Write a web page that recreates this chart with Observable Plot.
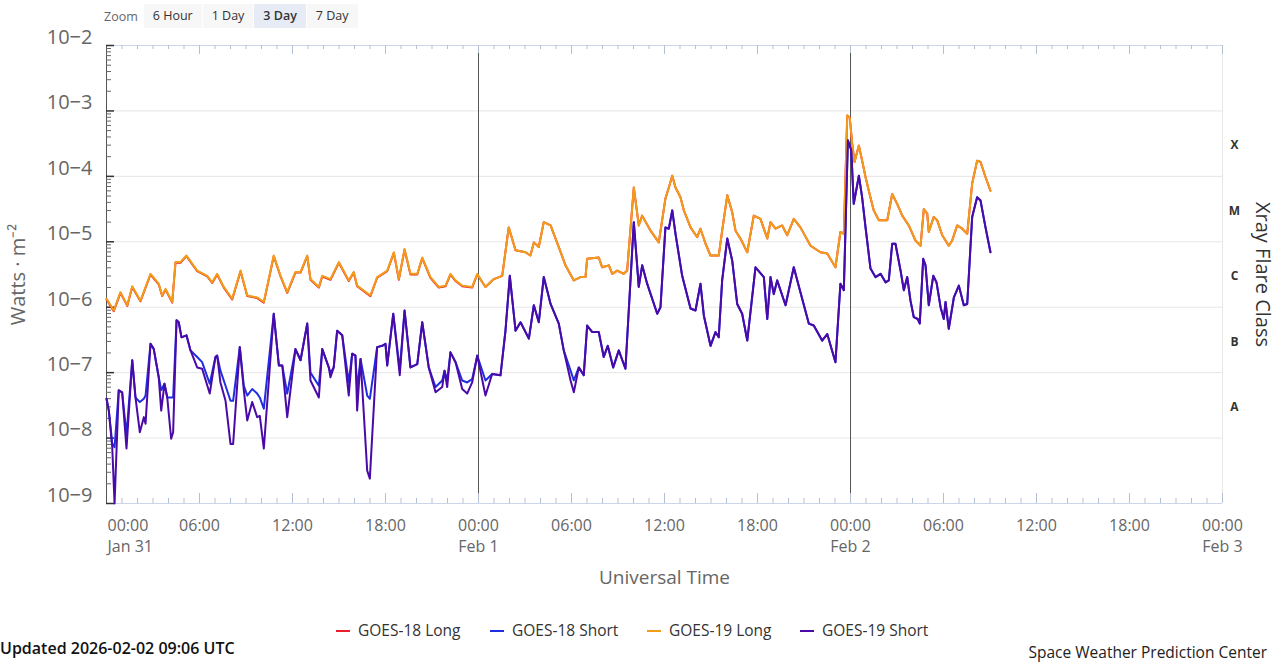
<!DOCTYPE html>
<html><head><meta charset="utf-8">
<script src="https://cdn.jsdelivr.net/npm/d3@7"></script>
<script src="https://cdn.jsdelivr.net/npm/@observablehq/plot@0.6"></script>
<style>
body{margin:0;background:#fff;font-family:"Open Sans",sans-serif;}
#wrap{position:relative;width:1281px;height:662px;overflow:hidden;background:#fff;}
#chart{position:absolute;left:0;top:0;}
#zoom{position:absolute;top:4px;left:104px;height:24px;display:flex;align-items:center;font-size:12.5px;color:#333;}
#zoom .lbl{color:#666;margin-right:6px;}
#zoom .btn{background:#f7f7f7;height:24px;line-height:24px;padding:0 9px;margin-right:1px;}
#zoom .btn.sel{background:#e6ebf5;font-weight:600;}
#legend{position:absolute;top:619px;left:0;width:1281px;height:22px;}
.li{position:absolute;top:0;height:22px;line-height:22px;font-size:15.5px;color:#333;font-weight:500;white-space:nowrap;}
.li i{display:inline-block;width:14px;height:2px;vertical-align:middle;margin-right:8px;position:relative;top:-1px;}
#updated{position:absolute;left:0;top:639px;height:18px;line-height:18px;font-size:16px;font-weight:600;color:#111;white-space:nowrap;}
#swpc{position:absolute;right:14px;top:643px;height:18px;line-height:18px;font-size:15.5px;color:#222;white-space:nowrap;}
</style></head>
<body><div id="wrap">
<div id="chart"></div>
<div id="zoom"><span class="lbl">Zoom</span><span class="btn">6 Hour</span><span class="btn">1 Day</span><span class="btn sel">3 Day</span><span class="btn">7 Day</span></div>
<div id="legend"></div>
<div id="updated">Updated 2026-02-02 09:06 UTC</div>
<div id="swpc">Space Weather Prediction Center</div>
</div>
<script>
// Time in hours after 2026-01-31 00:00 UTC, value = log10(flux in W·m⁻²)
const g19Long = [[0,-5.87],[0.47,-6.05],[0.90,-5.77],[1.34,-5.97],[1.66,-5.68],[2.19,-5.90],[2.84,-5.49],[3.37,-5.64],[3.59,-5.82],[3.81,-5.72],[4.24,-5.92],[4.45,-5.31],[4.77,-5.31],[5.16,-5.21],[5.85,-5.44],[6.50,-5.52],[6.82,-5.62],[7.14,-5.49],[7.57,-5.69],[8.11,-5.87],[8.65,-5.44],[9.08,-5.82],[9.72,-5.85],[10.15,-5.92],[10.79,-5.21],[11.23,-5.52],[11.66,-5.77],[12.19,-5.46],[12.52,-5.46],[12.95,-5.21],[13.16,-5.57],[13.70,-5.69],[13.92,-5.52],[14.45,-5.57],[14.99,-5.31],[15.63,-5.59],[15.95,-5.46],[16.17,-5.67],[17.03,-5.82],[17.46,-5.54],[18.11,-5.44],[18.54,-5.16],[18.86,-5.57],[19.23,-5.11],[19.61,-5.49],[20.05,-5.49],[20.37,-5.24],[20.90,-5.54],[21.44,-5.69],[21.87,-5.67],[22.19,-5.49],[22.52,-5.59],[22.95,-5.67],[23.59,-5.69],[23.92,-5.49],[24.45,-5.69],[24.99,-5.57],[25.53,-5.52],[25.95,-4.78],[26.39,-5.13],[27.03,-5.16],[27.35,-5.21],[27.57,-5.01],[27.89,-5.08],[28.21,-4.70],[28.65,-4.75],[29.18,-5.08],[29.61,-5.36],[30.15,-5.59],[30.58,-5.54],[30.90,-5.54],[31.01,-5.26],[31.76,-5.24],[31.98,-5.39],[32.41,-5.36],[32.63,-5.49],[32.95,-5.44],[33.37,-5.49],[33.59,-5.44],[34.02,-4.17],[34.34,-4.75],[34.56,-4.60],[35.10,-4.83],[35.63,-5.01],[36.06,-4.34],[36.28,-4.17],[36.50,-3.99],[36.71,-4.17],[37.03,-4.32],[37.25,-4.52],[37.68,-4.78],[38.11,-4.93],[38.32,-4.80],[38.65,-5.03],[38.97,-5.21],[39.50,-5.21],[39.72,-4.83],[40.05,-4.29],[40.37,-4.55],[40.58,-4.83],[40.90,-4.95],[41.34,-5.16],[41.76,-4.60],[42.19,-4.65],[42.63,-4.95],[42.84,-4.70],[43.16,-4.80],[43.59,-4.75],[43.92,-4.90],[44.34,-4.65],[44.77,-4.78],[45.42,-5.06],[46.06,-5.16],[46.50,-5.18],[47.03,-5.39],[47.35,-4.85],[47.57,-4.88],[47.79,-3.07],[47.95,-3.10],[48.11,-3.50],[48.26,-3.78],[48.54,-3.53],[48.75,-3.76],[48.97,-4.01],[49.18,-4.22],[49.50,-4.52],[49.83,-4.67],[50.15,-4.67],[50.37,-4.67],[50.69,-4.27],[51.01,-4.42],[51.34,-4.60],[51.76,-4.75],[52.19,-4.98],[52.52,-5.06],[52.73,-4.50],[52.95,-4.57],[53.05,-4.85],[53.37,-4.62],[53.59,-4.67],[53.92,-4.90],[54.13,-4.98],[54.34,-5.06],[54.56,-4.98],[54.88,-4.75],[55.21,-4.80],[55.53,-4.88],[55.85,-4.11],[56.17,-3.76],[56.39,-3.78],[56.71,-4.01],[57.03,-4.22]];

const g18Long = [[0,-5.88],[0.47,-6.06],[0.90,-5.78],[1.34,-5.98],[1.66,-5.69],[2.19,-5.91],[2.84,-5.50],[3.37,-5.65],[3.59,-5.83],[3.81,-5.73],[4.24,-5.93],[4.45,-5.32],[4.77,-5.32],[5.16,-5.22],[5.85,-5.45],[6.50,-5.53],[6.82,-5.63],[7.14,-5.50],[7.57,-5.70],[8.11,-5.88],[8.65,-5.45],[9.08,-5.83],[9.72,-5.86],[10.15,-5.93],[10.79,-5.22],[11.23,-5.53],[11.66,-5.78],[12.19,-5.47],[12.52,-5.47],[12.95,-5.22],[13.16,-5.58],[13.70,-5.70],[13.92,-5.53],[14.45,-5.58],[14.99,-5.32],[15.63,-5.60],[15.95,-5.47],[16.17,-5.68],[17.03,-5.83],[17.46,-5.55],[18.11,-5.45],[18.54,-5.17],[18.86,-5.58],[19.23,-5.12],[19.61,-5.50],[20.05,-5.50],[20.37,-5.25],[20.90,-5.55],[21.44,-5.70],[21.87,-5.68],[22.19,-5.50],[22.52,-5.60],[22.95,-5.68],[23.59,-5.70],[23.92,-5.50],[24.45,-5.69],[24.99,-5.57],[25.53,-5.52],[25.95,-4.78],[26.39,-5.13],[27.03,-5.16],[27.35,-5.21],[27.57,-5.01],[27.89,-5.08],[28.21,-4.70],[28.65,-4.75],[29.18,-5.08],[29.61,-5.36],[30.15,-5.59],[30.58,-5.54],[30.90,-5.54],[31.01,-5.26],[31.76,-5.24],[31.98,-5.39],[32.41,-5.36],[32.63,-5.49],[32.95,-5.44],[33.37,-5.49],[33.59,-5.44],[34.02,-4.17],[34.34,-4.75],[34.56,-4.60],[35.10,-4.83],[35.63,-5.01],[36.06,-4.34],[36.28,-4.17],[36.50,-3.99],[36.71,-4.17],[37.03,-4.32],[37.25,-4.52],[37.68,-4.78],[38.11,-4.93],[38.32,-4.80],[38.65,-5.03],[38.97,-5.21],[39.50,-5.21],[39.72,-4.83],[40.05,-4.29],[40.37,-4.55],[40.58,-4.83],[40.90,-4.95],[41.34,-5.16],[41.76,-4.60],[42.19,-4.65],[42.63,-4.95],[42.84,-4.70],[43.16,-4.80],[43.59,-4.75],[43.92,-4.90],[44.34,-4.65],[44.77,-4.78],[45.42,-5.06],[46.06,-5.16],[46.50,-5.18],[47.03,-5.39],[47.35,-4.85],[47.57,-4.88],[47.79,-3.07],[47.95,-3.10],[48.11,-3.50],[48.26,-3.78],[48.54,-3.53],[48.75,-3.76],[48.97,-4.01],[49.18,-4.22],[49.50,-4.52],[49.83,-4.67],[50.15,-4.67],[50.37,-4.67],[50.69,-4.27],[51.01,-4.42],[51.34,-4.60],[51.76,-4.75],[52.19,-4.98],[52.52,-5.06],[52.73,-4.50],[52.95,-4.57],[53.05,-4.85],[53.37,-4.62],[53.59,-4.67],[53.92,-4.90],[54.13,-4.98],[54.34,-5.06],[54.56,-4.98],[54.88,-4.75],[55.21,-4.80],[55.53,-4.88],[55.85,-4.11],[56.17,-3.76],[56.39,-3.78],[56.71,-4.01],[57.03,-4.22]];

const g19Short = [[0,-7.40],[0.15,-7.58],[0.37,-8.14],[0.52,-9.00],[0.79,-7.27],[1.01,-7.30],[1.29,-8.16],[1.66,-6.81],[1.87,-7.38],[2.15,-7.91],[2.41,-7.68],[2.52,-7.78],[2.84,-6.56],[3.05,-6.64],[3.37,-7.07],[3.53,-7.58],[3.74,-7.17],[3.92,-7.38],[4.17,-8.01],[4.30,-7.91],[4.52,-6.20],[4.66,-6.23],[4.84,-6.46],[5.16,-6.43],[5.42,-6.66],[5.85,-6.92],[6.17,-6.94],[6.66,-7.32],[7.03,-6.76],[7.14,-6.74],[7.35,-7.15],[7.68,-7.43],[8.00,-8.09],[8.17,-8.09],[8.60,-6.61],[8.86,-7.27],[9.08,-7.73],[9.40,-7.45],[9.72,-7.68],[9.89,-7.66],[10.15,-8.16],[10.79,-6.10],[11.12,-6.89],[11.34,-6.89],[11.66,-7.68],[12.19,-6.64],[12.52,-6.81],[12.95,-6.25],[13.16,-7.12],[13.70,-7.38],[13.92,-6.64],[14.34,-6.92],[14.45,-7.07],[14.66,-6.92],[14.88,-6.36],[15.21,-6.43],[15.63,-7.35],[15.85,-6.71],[16.06,-6.74],[16.17,-7.58],[16.39,-6.79],[16.82,-8.50],[16.99,-8.62],[17.46,-6.61],[17.79,-6.59],[18.00,-6.56],[18.11,-6.89],[18.50,-6.10],[18.92,-7.04],[19.23,-6.05],[19.61,-6.92],[20.05,-6.87],[20.37,-6.23],[20.79,-6.92],[21.23,-7.30],[21.66,-7.22],[21.81,-6.97],[21.98,-7.22],[22.19,-6.69],[22.52,-6.84],[22.95,-7.25],[23.27,-7.32],[23.59,-7.15],[23.92,-6.74],[24.45,-7.35],[24.88,-7.02],[25.42,-7.04],[25.74,-6.36],[26.02,-5.52],[26.39,-6.36],[26.71,-6.23],[27.25,-6.48],[27.57,-5.97],[27.89,-6.23],[28.21,-5.54],[28.65,-5.95],[29.18,-6.25],[29.50,-6.66],[29.94,-7.12],[30.15,-7.30],[30.47,-6.92],[30.79,-7.04],[31.01,-6.28],[31.34,-6.38],[31.76,-6.38],[32.08,-6.76],[32.34,-6.59],[32.69,-6.92],[33.05,-6.66],[33.48,-6.94],[34.02,-4.70],[34.34,-5.69],[34.56,-5.36],[34.88,-5.64],[35.53,-6.10],[35.74,-6.00],[36.06,-4.78],[36.28,-4.80],[36.50,-4.52],[36.71,-4.88],[37.14,-5.52],[37.68,-6.02],[38.00,-6.05],[38.32,-5.64],[38.54,-6.13],[38.97,-6.59],[39.29,-6.38],[39.50,-6.46],[39.72,-5.59],[40.05,-4.95],[40.37,-5.29],[40.69,-5.95],[41.01,-6.10],[41.34,-6.51],[41.87,-5.39],[42.41,-5.54],[42.63,-6.18],[42.84,-5.54],[43.05,-5.80],[43.27,-5.59],[43.81,-5.97],[44.34,-5.39],[44.77,-5.77],[45.31,-6.25],[45.63,-6.28],[46.17,-6.51],[46.50,-6.41],[47.03,-6.84],[47.35,-5.64],[47.57,-5.74],[47.83,-3.45],[48.05,-3.60],[48.21,-4.42],[48.54,-3.99],[48.75,-4.32],[48.97,-4.78],[49.29,-5.41],[49.61,-5.54],[49.94,-5.49],[50.26,-5.62],[50.47,-5.59],[50.69,-5.03],[50.90,-5.03],[51.23,-5.44],[51.44,-5.74],[51.66,-5.54],[51.87,-5.90],[52.08,-6.15],[52.34,-6.18],[52.47,-6.25],[52.69,-5.26],[52.84,-5.36],[53.05,-5.97],[53.34,-5.52],[53.55,-5.62],[53.81,-6.00],[54.02,-6.18],[54.13,-5.92],[54.34,-6.33],[54.67,-5.85],[54.99,-5.67],[55.31,-5.97],[55.53,-5.95],[55.85,-4.62],[56.17,-4.32],[56.39,-4.37],[56.71,-4.78],[57.03,-5.16]];

const g18Short = [[0,-7.40],[0.15,-7.58],[0.37,-8.08],[0.52,-8.14],[0.79,-7.27],[1.01,-7.30],[1.29,-7.95],[1.66,-6.81],[1.87,-7.38],[2.15,-7.45],[2.41,-7.40],[2.52,-7.35],[2.84,-6.56],[3.05,-6.64],[3.37,-7.07],[3.53,-7.27],[3.74,-7.17],[3.92,-7.38],[4.17,-7.38],[4.30,-7.38],[4.52,-6.20],[4.66,-6.23],[4.84,-6.46],[5.16,-6.43],[5.42,-6.66],[5.85,-6.76],[6.17,-6.84],[6.66,-7.17],[7.03,-6.76],[7.14,-6.74],[7.35,-6.97],[7.68,-7.20],[8.00,-7.43],[8.17,-7.43],[8.60,-6.61],[8.86,-7.20],[9.08,-7.35],[9.40,-7.25],[9.72,-7.32],[9.89,-7.38],[10.15,-7.55],[10.79,-6.10],[11.12,-6.89],[11.34,-6.89],[11.66,-7.32],[12.19,-6.64],[12.52,-6.81],[12.95,-6.25],[13.16,-7.00],[13.70,-7.20],[13.92,-6.64],[14.34,-6.92],[14.45,-7.00],[14.66,-6.92],[14.88,-6.36],[15.21,-6.43],[15.63,-7.15],[15.85,-6.71],[16.06,-6.74],[16.17,-7.25],[16.39,-6.79],[16.82,-7.35],[16.99,-7.40],[17.46,-6.61],[17.79,-6.59],[18.00,-6.56],[18.11,-6.89],[18.50,-6.10],[18.92,-6.95],[19.23,-6.05],[19.61,-6.92],[20.05,-6.87],[20.37,-6.23],[20.79,-6.92],[21.23,-7.22],[21.66,-7.12],[21.81,-6.97],[21.98,-7.12],[22.19,-6.69],[22.52,-6.84],[22.95,-7.12],[23.27,-7.15],[23.59,-7.10],[23.92,-6.74],[24.45,-7.12],[24.88,-7.02],[25.42,-7.04],[25.74,-6.36],[26.02,-5.52],[26.39,-6.36],[26.71,-6.23],[27.25,-6.48],[27.57,-5.97],[27.89,-6.23],[28.21,-5.54],[28.65,-5.95],[29.18,-6.25],[29.50,-6.66],[29.94,-6.97],[30.15,-7.12],[30.47,-6.92],[30.79,-7.04],[31.01,-6.28],[31.34,-6.38],[31.76,-6.38],[32.08,-6.76],[32.34,-6.59],[32.69,-6.92],[33.05,-6.66],[33.48,-6.94],[34.02,-4.70],[34.34,-5.69],[34.56,-5.36],[34.88,-5.64],[35.53,-6.10],[35.74,-6.00],[36.06,-4.78],[36.28,-4.80],[36.50,-4.52],[36.71,-4.88],[37.14,-5.52],[37.68,-6.02],[38.00,-6.05],[38.32,-5.64],[38.54,-6.13],[38.97,-6.59],[39.29,-6.38],[39.50,-6.46],[39.72,-5.59],[40.05,-4.95],[40.37,-5.29],[40.69,-5.95],[41.01,-6.10],[41.34,-6.51],[41.87,-5.39],[42.41,-5.54],[42.63,-6.18],[42.84,-5.54],[43.05,-5.80],[43.27,-5.59],[43.81,-5.97],[44.34,-5.39],[44.77,-5.77],[45.31,-6.25],[45.63,-6.28],[46.17,-6.51],[46.50,-6.41],[47.03,-6.84],[47.35,-5.64],[47.57,-5.74],[47.83,-3.45],[48.05,-3.60],[48.21,-4.42],[48.54,-3.99],[48.75,-4.32],[48.97,-4.78],[49.29,-5.41],[49.61,-5.54],[49.94,-5.49],[50.26,-5.62],[50.47,-5.59],[50.69,-5.03],[50.90,-5.03],[51.23,-5.44],[51.44,-5.74],[51.66,-5.54],[51.87,-5.90],[52.08,-6.15],[52.34,-6.18],[52.47,-6.25],[52.69,-5.26],[52.84,-5.36],[53.05,-5.97],[53.34,-5.52],[53.55,-5.62],[53.81,-6.00],[54.02,-6.18],[54.13,-5.92],[54.34,-6.33],[54.67,-5.85],[54.99,-5.67],[55.31,-5.97],[55.53,-5.95],[55.85,-4.62],[56.17,-4.32],[56.39,-4.37],[56.71,-4.78],[57.03,-5.16]];

const seriesNames = ["GOES-18 Long","GOES-18 Short","GOES-19 Long","GOES-19 Short"];
const seriesColors = ["#e8202a","#1f2ee0","#f39c1a","#4a0aa8"];
const yDecades = [1e-9,1e-8,1e-7,1e-6,1e-5,1e-4,1e-3,1e-2];
const flareClasses = ["A","B","C","M","X"];
const flareClassLevels = [10**-7.5,10**-6.5,10**-5.5,10**-4.5,10**-3.5];
const xTickHours = [0,6,12,18,24,30,36,42,48,54,60,66,72];
const xTickTimes = ["00:00","06:00","12:00","18:00","00:00","06:00","12:00","18:00","00:00","06:00","12:00","18:00","00:00"];
const xTickDates = ["Jan 31","","","","Feb 1","","","","Feb 2","","","","Feb 3"];
const dayLineHours = [24,48];

const T0 = Date.UTC(2026,0,31);
const toDate = h => new Date(T0 + h*3600e3);
const W=1281, H=600, mL=106, mR=59, mT=45, mB=97;
const pw = W-mL-mR, ph = H-mT-mB;

const minorY = [];
for (const d of yDecades.slice(0,-1)) for (let m=2;m<=9;m++) minorY.push(m*d);
const hourTicks = d3.range(0,73);
const majorHourTicks = xTickHours;

const toRows = arr => arr.map(([h,v]) => ({t: toDate(h), f: 10**v}));
const allSeries = [g18Long, g18Short, g19Long, g19Short];

const labels = xTickHours.map((h,i) => ({t: toDate(h), s: xTickTimes[i] + (xTickDates[i] ? "\n"+xTickDates[i] : "")}));

const chart = Plot.plot({
  width: W, height: H,
  marginLeft: mL, marginRight: mR, marginTop: mT, marginBottom: mB,
  style: {fontFamily: "'Open Sans', sans-serif", background: "white", overflow: "visible"},
  x: {type: "utc", domain: [toDate(0), toDate(72)], axis: null},
  y: {type: "log", domain: [1e-9, 1e-2], axis: null},
  marks: [
    Plot.ruleY(yDecades.slice(1,-1), {stroke: "#e6e6e6"}),
    Plot.ruleY([1e-2, 1e-9], {stroke: "#ccd6eb"}),
    Plot.ruleX([toDate(72)], {stroke: "#e6e6e6"}),
    // bottom ticks
    Plot.ruleX(hourTicks, {x: toDate, insetTop: ph-5, stroke: "#b5bfd2"}),
    Plot.ruleX(majorHourTicks, {x: toDate, insetTop: ph-10, stroke: "#b5bfd2"}),
    // top ticks
    Plot.ruleX(hourTicks, {x: toDate, insetBottom: ph-4, stroke: "#b5bfd2"}),
    Plot.ruleX(majorHourTicks, {x: toDate, insetBottom: ph-9, stroke: "#b5bfd2"}),
    // day lines
    Plot.ruleX(dayLineHours, {x: toDate, insetTop: 8, insetBottom: 10, stroke: "#555"}),
    // left axis
    Plot.ruleX([toDate(0)], {stroke: "#555"}),
    Plot.ruleY(minorY, {insetRight: pw-5, stroke: "#666"}),
    Plot.ruleY(yDecades, {insetRight: pw-8, stroke: "#333", strokeWidth: 1.5}),
    // series
    ...allSeries.map((s,i) => Plot.line(toRows(s), {x: "t", y: "f", stroke: seriesColors[i], strokeWidth: 2, strokeLinejoin: "round"})),
    // y tick labels
    Plot.text(yDecades, {y: d => d, frameAnchor: "left", dx: -14, dy: -8, textAnchor: "end",
      text: d => "10\u2212" + (-Math.round(Math.log10(d))), fontSize: 20, fill: "#666"}),
    // x tick labels
    Plot.text(labels.slice(0,1), {x: "t", text: "s", frameAnchor: "bottom", lineAnchor: "top", dy: 12, textAnchor: "start", dx: 1,
      lineHeight: 1.35, fontSize: 16, fill: "#666"}),
    Plot.text(labels.slice(1), {x: "t", text: "s", frameAnchor: "bottom", lineAnchor: "top", dy: 12, textAnchor: "middle",
      lineHeight: 1.35, fontSize: 16, fill: "#666"}),
    Plot.text(["Universal Time"], {text: d => d, frameAnchor: "bottom", dy: 80, textAnchor: "middle", fontSize: 19, fill: "#666"}),
    Plot.text(["Watts \u00b7 m\u207b\u00b2"], {text: d => d, frameAnchor: "left", dx: -88, rotate: -90, textAnchor: "middle", fontSize: 20, fill: "#666"}),
    // flare class labels
    Plot.text(flareClasses, {y: (d,i) => flareClassLevels[i], text: d => d, frameAnchor: "right", dx: 12, dy: 2, textAnchor: "middle",
      fontSize: 12, fontWeight: "bold", fill: "#333"}),
    Plot.text(["Xray Flare Class"], {text: d => d, frameAnchor: "right", dx: 40, rotate: 90, textAnchor: "middle", fontSize: 20, fill: "#333"})
  ]
});
document.getElementById("chart").appendChild(chart);

const legendX = [336, 490, 647, 800];
const leg = document.getElementById("legend");
seriesNames.forEach((n,i) => {
  const el = document.createElement("div");
  el.className = "li";
  el.style.left = legendX[i] + "px";
  el.innerHTML = `<i style="background:${seriesColors[i]}"></i>${n}`;
  leg.appendChild(el);
});
</script>
</body></html>
